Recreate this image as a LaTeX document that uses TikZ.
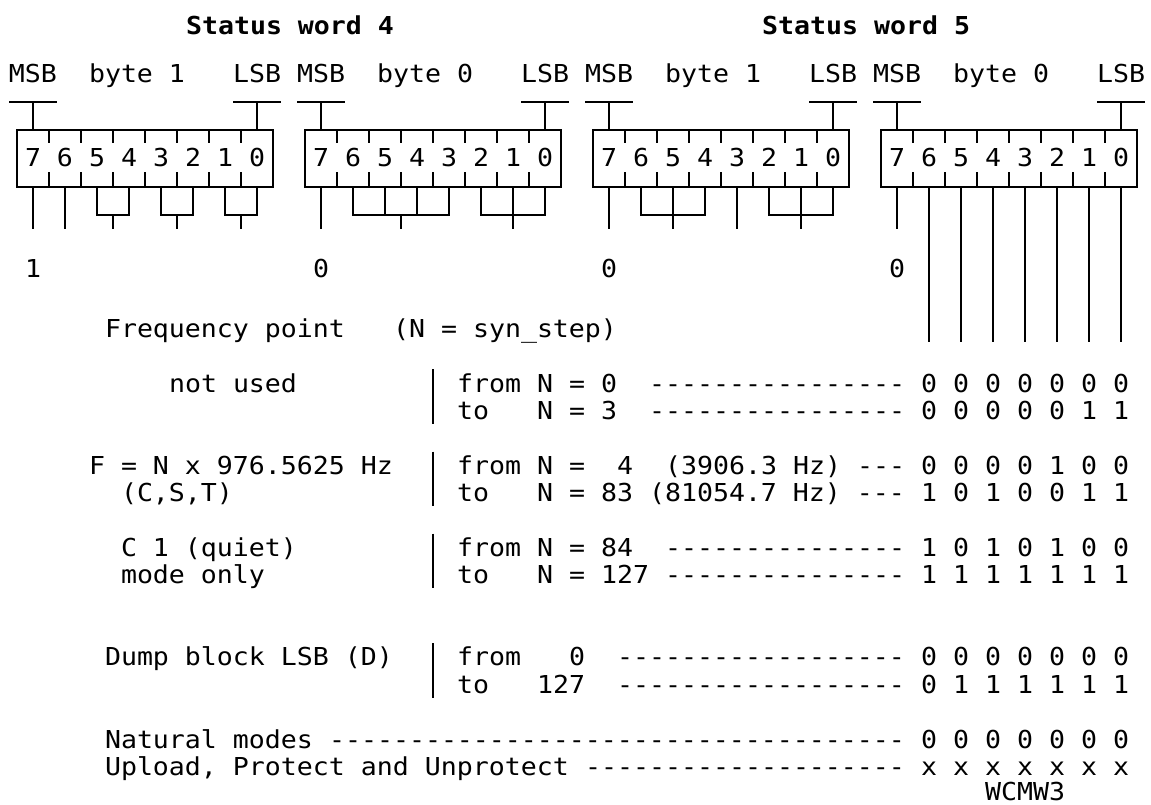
\documentclass[tikz,border=0pt]{standalone}
\usepackage{fontspec}
\newfontfamily\mono[FakeStretch=1.076]{DejaVu Sans Mono}
\newcommand\Tx[4]{\node[txt] (#1) at ({9+16*(#2)},{337.3+27.38*(#3)}) {#4};}
\newcommand\Vl[3]{\draw[boxline] ({17+16*(#1)},#2) -- ({17+16*(#1)},#3);}
\newcommand\Brk[2]{\draw[boxline] ({17+16*(#1)},186.7) -- ({17+16*(#1)},215) -- ({17+16*(#2)},215) -- ({17+16*(#2)},186.7);}
\newcommand\Sep[1]{\draw[barline] (433,{337.3+27.38*(#1)-22.7}) -- (433,{337.3+27.38*(#1+1)+4.7});}
\begin{document}
\begin{tikzpicture}[x=1pt,y=-1pt,
  txt/.style={anchor=base west,inner sep=0pt,outer sep=0pt,font=\mono\fontsize{24.7}{27}\selectfont},
  ctxt/.style={txt,anchor=base},
  ttl/.style={txt,font=\mono\bfseries\fontsize{24.7}{27}\selectfont},
  boxline/.style={line width=2pt},
  barline/.style={line width=1.8pt}]
\useasboundingbox (0,0) rectangle (1151,805);

% titles
\node[ttl] (title4) at (186,35) {Status word 4};
\node[ttl] (title5) at (762,35) {Status word 5};

% four byte boxes
\foreach \k in {0,1,2,3} {
  \pgfmathtruncatemacro\b{18*\k}
  \draw[boxline] ({17+16*\b},130) rectangle ({17+16*(\b+16)},186.7);
  \foreach \j in {1,...,7} {
    \draw[boxline] ({17+16*(\b+2*\j)},130) -- ++(0,13.5);
    \draw[boxline] ({17+16*(\b+2*\j)},186.7) -- ++(0,-14.2);
  }
  \draw[boxline] ({9+16*\b},102) -- ({9+16*(\b+3)},102);
  \draw[boxline] ({17+16*(\b+1)},102) -- ({17+16*(\b+1)},130);
  \draw[boxline] ({9+16*(\b+14)},102) -- ({9+16*(\b+17)},102);
  \draw[boxline] ({17+16*(\b+15)},102) -- ({17+16*(\b+15)},130);
  \node[txt] (msb\k) at ({9+16*\b},83) {MSB};
  \node[txt] (lsb\k) at ({9+16*(\b+14)},83) {LSB};
  \foreach \d [count=\i from 0] in {7,6,5,4,3,2,1,0}
    \node[ctxt] (bit\k\d) at ({17+16*(\b+1+2*\i)},166.5) {\d};
}
\node[txt] (byteA) at ({9+16*5},83) {byte 1};
\node[txt] (byteB) at ({9+16*23},83) {byte 0};
\node[txt] (byteC) at ({9+16*41},83) {byte 1};
\node[txt] (byteD) at ({9+16*59},83) {byte 0};

% word 4 byte 1
\Vl{1}{186.7}{229.5}
\Vl{3}{186.7}{229.5}
\Brk{5}{7}\Vl{6}{215}{229.5}
\Brk{9}{11}\Vl{10}{215}{229.5}
\Brk{13}{15}\Vl{14}{215}{229.5}
% word 4 byte 0
\Vl{19}{186.7}{229.5}
\Brk{21}{27}\Vl{23}{186.7}{215}\Vl{25}{186.7}{215}\Vl{24}{215}{229.5}
\Brk{29}{33}\Vl{31}{186.7}{229.5}
% word 5 byte 1
\Vl{37}{186.7}{229.5}
\Brk{39}{43}\Vl{41}{186.7}{229.5}
\Vl{45}{186.7}{229.5}
\Brk{47}{51}\Vl{49}{186.7}{229.5}
% word 5 byte 0
\Vl{55}{186.7}{229.5}
\foreach \c in {57,59,...,69} {\Vl{\c}{186.7}{342}}

% bit values under MSBs
\node[ctxt] (v1) at ({17+16*1},277) {1};
\node[ctxt] (v2) at ({17+16*19},277) {0};
\node[ctxt] (v3) at ({17+16*37},277) {0};
\node[ctxt] (v4) at ({17+16*55},277) {0};

% text table
\Tx{fp}{6}{0}{Frequency point}
\Tx{fpn}{24}{0}{(N = syn\_step)}

\Tx{nu}{10}{2}{not used}
\Tx{a1}{28}{2}{from N = 0}
\Tx{a2}{40}{2}{----------------}
\Tx{a3}{57}{2}{0 0 0 0 0 0 0}
\Tx{b1}{28}{3}{to}
\Tx{b2}{33}{3}{N = 3}
\Tx{b3}{40}{3}{----------------}
\Tx{b4}{57}{3}{0 0 0 0 0 1 1}

\Tx{fr}{5}{5}{F = N x 976.5625 Hz}
\Tx{c1}{28}{5}{from N =}
\Tx{c2}{38}{5}{4}
\Tx{c3}{41}{5}{(3906.3 Hz) ---}
\Tx{c4}{57}{5}{0 0 0 0 1 0 0}
\Tx{cst}{7}{6}{(C,S,T)}
\Tx{d1}{28}{6}{to}
\Tx{d2}{33}{6}{N = 83 (81054.7 Hz) ---}
\Tx{d3}{57}{6}{1 0 1 0 0 1 1}

\Tx{cq}{7}{8}{C 1 (quiet)}
\Tx{e1}{28}{8}{from N = 84}
\Tx{e2}{41}{8}{---------------}
\Tx{e3}{57}{8}{1 0 1 0 1 0 0}
\Tx{mo}{7}{9}{mode only}
\Tx{f1}{28}{9}{to}
\Tx{f2}{33}{9}{N = 127}
\Tx{f3}{41}{9}{---------------}
\Tx{f4}{57}{9}{1 1 1 1 1 1 1}

\Tx{db}{6}{12}{Dump block LSB (D)}
\Tx{g1}{28}{12}{from}
\Tx{g2}{35}{12}{0}
\Tx{g3}{38}{12}{------------------}
\Tx{g4}{57}{12}{0 0 0 0 0 0 0}
\Tx{h1}{28}{13}{to}
\Tx{h2}{33}{13}{127}
\Tx{h3}{38}{13}{------------------}
\Tx{h4}{57}{13}{0 1 1 1 1 1 1}

\Tx{nm}{6}{15}{Natural modes}
\Tx{i1}{20}{15}{------------------------------------}
\Tx{i2}{57}{15}{0 0 0 0 0 0 0}
\Tx{up}{6}{16}{Upload, Protect and Unprotect}
\Tx{j1}{36}{16}{--------------------}
\Tx{j2}{57}{16}{x x x x x x x}
\node[txt] (wc) at ({9+16*61},800.5) {WCMW3};

% separators
\Sep{2}
\Sep{5}
\Sep{8}
\Sep{12}
\end{tikzpicture}
\end{document}
